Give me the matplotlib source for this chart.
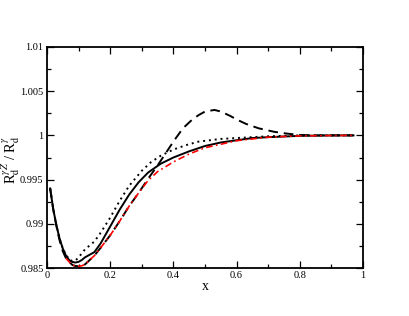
import numpy as np
import matplotlib
matplotlib.use('Agg')
import matplotlib.pyplot as plt
from matplotlib.ticker import MultipleLocator

# Data
x_solid = [0.01, 0.02, 0.03, 0.04, 0.05, 0.06, 0.07, 0.08, 0.09, 0.10, 0.11, 0.12, 0.15,
           0.17, 0.20, 0.23, 0.26, 0.29, 0.32, 0.36, 0.40, 0.45, 0.50, 0.55, 0.60, 0.65,
           0.70, 0.80, 0.90, 0.97]
y_solid = [0.9940, 0.9916, 0.9898, 0.9883, 0.9872, 0.9864, 0.9859, 0.98568, 0.98562, 0.98570,
           0.98590, 0.98620, 0.9868, 0.9878, 0.9897, 0.9916, 0.9933, 0.9947, 0.9958, 0.9968,
           0.9975, 0.9982, 0.9988, 0.9992, 0.99945, 0.9997, 0.9998, 0.99995, 1.0, 1.0]

x_dot = [0.01, 0.02, 0.03, 0.04, 0.05, 0.06, 0.07, 0.08, 0.09, 0.10, 0.12, 0.15, 0.17, 0.20,
         0.23, 0.26, 0.30, 0.33, 0.36, 0.40, 0.44, 0.48, 0.55, 0.60, 0.70, 0.80, 0.90, 0.97]
y_dot = [0.9940, 0.9916, 0.9898, 0.9883, 0.9872, 0.9865, 0.98600, 0.98578, 0.98585, 0.9862,
         0.9871, 0.9880, 0.9890, 0.9907, 0.9926, 0.9943, 0.9960, 0.9970, 0.9977, 0.9984,
         0.9989, 0.9993, 0.9996, 0.9997, 0.9999, 1.0, 1.0, 1.0]

x_dash = [0.01, 0.02, 0.03, 0.04, 0.05, 0.06, 0.07, 0.08, 0.09, 0.10, 0.11, 0.12, 0.15, 0.17,
          0.20, 0.23, 0.26, 0.29, 0.32, 0.35, 0.40, 0.43, 0.46, 0.48, 0.50, 0.53, 0.55, 0.58,
          0.60, 0.63, 0.67, 0.72, 0.76, 0.80, 0.85, 0.97]
y_dash = [0.9940, 0.9916, 0.9897, 0.9881, 0.9869, 0.9861, 0.9857, 0.98535, 0.98522, 0.98520,
          0.98525, 0.98540, 0.9864, 0.9873, 0.9887, 0.9903, 0.9920, 0.9935, 0.9951, 0.9966,
          0.9993, 1.0008, 1.0018, 1.0023, 1.0027, 1.00288, 1.0027, 1.0022, 1.0018, 1.0013,
          1.0008, 1.0004, 1.0002, 1.00005, 1.0, 1.0]

x_red = [0.06, 0.07, 0.08, 0.09, 0.10, 0.11, 0.12, 0.15, 0.17, 0.20, 0.23, 0.26, 0.29, 0.32,
         0.35, 0.40, 0.45, 0.50, 0.55, 0.60, 0.65, 0.70, 0.80, 0.97]
y_red = [0.9861, 0.9857, 0.98535, 0.98522, 0.98520, 0.98525, 0.98540, 0.9864, 0.9873, 0.9887,
         0.9903, 0.9920, 0.9935, 0.9949, 0.9959, 0.9970, 0.9979, 0.9986, 0.9990, 0.9994,
         0.9996, 0.9998, 0.99995, 1.0]

x_ticks = [0, 0.2, 0.4, 0.6, 0.8, 1]
x_labels = ['0', '0.2', '0.4', '0.6', '0.8', '1']
y_ticks = [0.985, 0.99, 0.995, 1.0, 1.005, 1.01]
y_labels = ['0.985', '0.99', '0.995', '1', '1.005', '1.01']

plt.rcParams['font.family'] = ['Liberation Serif', 'DejaVu Serif']
plt.rcParams['mathtext.fontset'] = 'stix'

fig = plt.figure(figsize=(4.09, 3.16), dpi=100)
ax = fig.add_axes([47 / 409, 1 - 268 / 316, 316 / 409, 221 / 316])

ax.plot(x_solid, y_solid, color='black', lw=1.4)
ax.plot(x_dot, y_dot, color='black', lw=1.4, linestyle=(0, (1, 2)))
ax.plot(x_dash, y_dash, color='black', lw=1.4, linestyle=(0, (5, 3)))
ax.plot(x_red, y_red, color='red', lw=1.2, linestyle=(0, (4, 2, 1, 2)))

ax.set_xlim(0, 1)
ax.set_ylim(0.985, 1.01)
ax.set_xticks(x_ticks)
ax.set_xticklabels(x_labels)
ax.set_yticks(y_ticks)
ax.set_yticklabels(y_labels)
ax.xaxis.set_minor_locator(MultipleLocator(0.1))
ax.yaxis.set_minor_locator(MultipleLocator(0.0025))
ax.tick_params(which='both', direction='in', top=True, right=True, labelsize=7.5, width=0.9)
ax.tick_params(which='major', length=5, pad=2.5)
ax.tick_params(which='minor', length=3)
for s in ax.spines.values():
    s.set_linewidth(1.3)

ax.set_xlabel('x', fontsize=10, labelpad=0)
ax.set_ylabel(r'R$_\mathrm{d}^{\gamma Z}$ / R$_\mathrm{d}^{\gamma}$', fontsize=10.5)
ax.yaxis.set_label_coords(-0.08, 0.49)

plt.savefig('out.png', dpi=100)
